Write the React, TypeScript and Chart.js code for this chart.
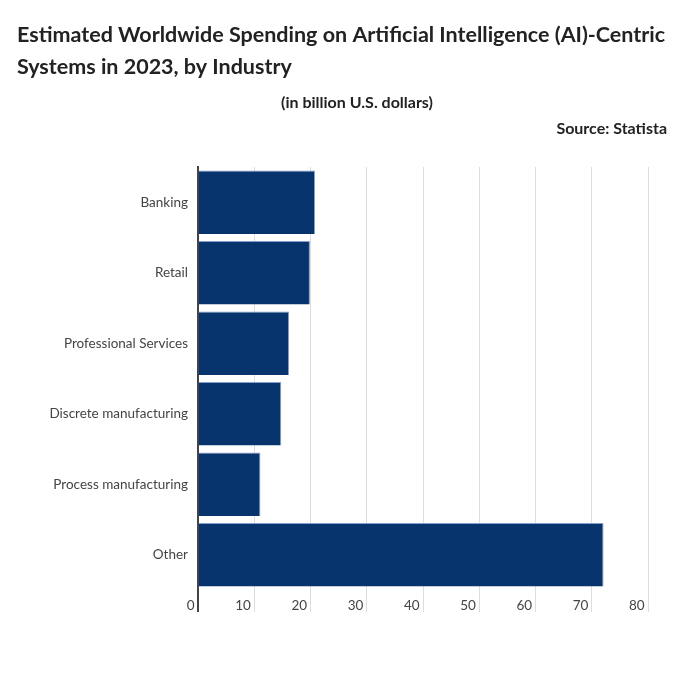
import React, { useEffect, useRef } from "react";
import { Chart, registerables } from "chart.js";

Chart.register(...registerables);

const TITLE_LINES = [
  "Estimated Worldwide Spending on Artificial Intelligence (AI)-Centric",
  "Systems in 2023, by Industry",
];
const SUBTITLE = "(in billion U.S. dollars)";
const SOURCE = "Source: Statista";

const categories = [
  "Banking",
  "Retail",
  "Professional Services",
  "Discrete manufacturing",
  "Process manufacturing",
  "Other",
];
const spending = [20.8, 19.9, 16.2, 14.8, 11.1, 72.1];
const xMin = 0;
const xMax = 80;
const xStep = 10;

const FONT = "Lato, 'Noto Sans', sans-serif";

const textPlugin = {
  id: "headerText",
  afterDraw(chart: any) {
    const ctx = chart.ctx;
    ctx.save();
    ctx.fillStyle = "#222";
    ctx.textBaseline = "alphabetic";
    let size = 21.5;
    ctx.font = `bold ${size}px ${FONT}`;
    const w = ctx.measureText(TITLE_LINES[0]).width;
    const target = 673;
    if (w > target) size = (size * target) / w;
    ctx.font = `bold ${size}px ${FONT}`;
    ctx.textAlign = "left";
    ctx.fillText(TITLE_LINES[0], 17, 42);
    ctx.fillText(TITLE_LINES[1], 17, 74);
    ctx.font = `bold 16px ${FONT}`;
    ctx.textAlign = "center";
    ctx.fillText(SUBTITLE, 357, 108);
    ctx.textAlign = "right";
    ctx.fillText(SOURCE, 667, 134);
    ctx.restore();
  },
};

export default function App() {
  const ref = useRef<HTMLCanvasElement | null>(null);
  useEffect(() => {
    if (!ref.current) return;
    const chart = new Chart(ref.current, {
      type: "bar",
      data: {
        labels: categories,
        datasets: [
          {
            data: spending,
            backgroundColor: "#07346D",
            borderColor: "rgba(120,150,200,0.9)",
            borderWidth: { top: 1, right: 1, bottom: 0, left: 0 },
            categoryPercentage: 1,
            barPercentage: 0.9,
          },
        ],
      },
      options: {
        indexAxis: "y",
        responsive: false,
        animation: false,
        layout: { padding: { top: 167, left: 0, right: 52, bottom: 0 } },
        plugins: {
          legend: { display: false },
          title: { display: false },
          tooltip: { enabled: false },
        },
        scales: {
          x: {
            min: xMin,
            max: xMax,
            grid: {
              color: (c: any) => (c.tick && c.tick.value === 0 ? "#444" : "#ddd"),
              lineWidth: (c: any) => (c.tick && c.tick.value === 0 ? 2 : 1),
              tickLength: 22,
              drawTicks: true,
            },
            border: { display: false },
            ticks: {
              stepSize: xStep,
              align: "end",
              padding: -14,
              color: "#444",
              font: { family: FONT, size: 13.5 },
              callback: (v: any) => `${v} `,
            },
            afterFit: (s: any) => {
              s.height = 83;
            },
          },
          y: {
            z: 1,
            grid: { display: false, drawTicks: false },
            border: { display: true, color: "#444", width: 2 },
            ticks: {
              padding: 10,
              color: "#444",
              font: { family: FONT, size: 13.5 },
            },
            afterFit: (s: any) => {
              s.width = 198;
            },
          },
        },
      },
      plugins: [textPlugin],
    });
    return () => chart.destroy();
  }, []);
  return (
    <div style={{ position: "absolute", left: 0, top: 0, width: 700, height: 673, background: "#fff" }}>
      <canvas ref={ref} width={700} height={673} style={{ display: "block" }} />
    </div>
  );
}
